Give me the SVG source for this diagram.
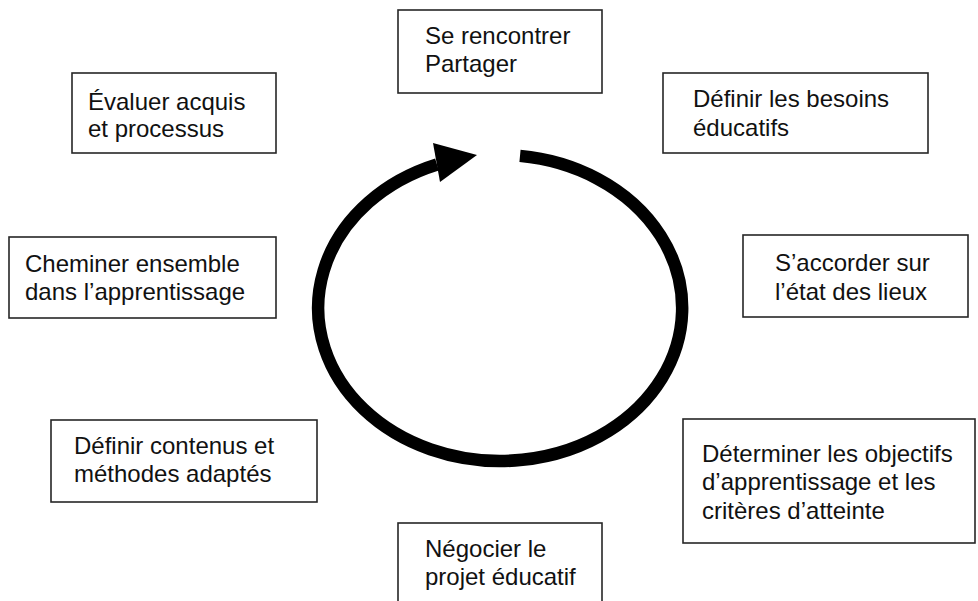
<svg xmlns="http://www.w3.org/2000/svg" width="978" height="601" viewBox="0 0 978 601">
<style>
.box{fill:#fff;stroke:#262626;stroke-width:1.6}
.t{font-family:"Liberation Sans",Arial,Helvetica,sans-serif;font-size:24px;fill:#111}
.cyc{fill:none;stroke:#000;stroke-width:12.5}
</style>
<rect width="978" height="601" fill="#fff"/>
<g id="connectors">
<path class="cyc" d="M 520 155.9 A 182 153 0 1 1 437 164.5"/>
<polygon points="433,143 477,155 440,182" fill="#000"/>
</g>
<g id="n1"><rect class="box" x="398" y="10" width="204" height="83"/><text class="t" x="425" y="44">Se rencontrer</text><text class="t" x="425" y="72">Partager</text></g>
<g id="n2"><rect class="box" x="663" y="73" width="265" height="80"/><text class="t" x="693" y="107">Définir les besoins</text><text class="t" x="693" y="136">éducatifs</text></g>
<g id="n3"><rect class="box" x="743" y="235" width="225" height="82"/><text class="t" x="775" y="271">S’accorder sur</text><text class="t" x="775" y="300">l’état des lieux</text></g>
<g id="n4"><rect class="box" x="683" y="419" width="292" height="124"/><text class="t" x="702" y="462">Déterminer les objectifs</text><text class="t" x="702" y="490">d’apprentissage et les</text><text class="t" x="702" y="519">critères d’atteinte</text></g>
<g id="n5"><rect class="box" x="398" y="523" width="204" height="90"/><text class="t" x="425" y="557">Négocier le</text><text class="t" x="425" y="585">projet éducatif</text></g>
<g id="n6"><rect class="box" x="51" y="420" width="266" height="82"/><text class="t" x="74" y="454">Définir contenus et</text><text class="t" x="74" y="482">méthodes adaptés</text></g>
<g id="n7"><rect class="box" x="9" y="237" width="267" height="81"/><text class="t" x="25" y="272">Cheminer ensemble</text><text class="t" x="25" y="300">dans l’apprentissage</text></g>
<g id="n8"><rect class="box" x="72" y="73" width="204" height="80"/><text class="t" x="88" y="110">Évaluer acquis</text><text class="t" x="88" y="137">et processus</text></g>
</svg>
